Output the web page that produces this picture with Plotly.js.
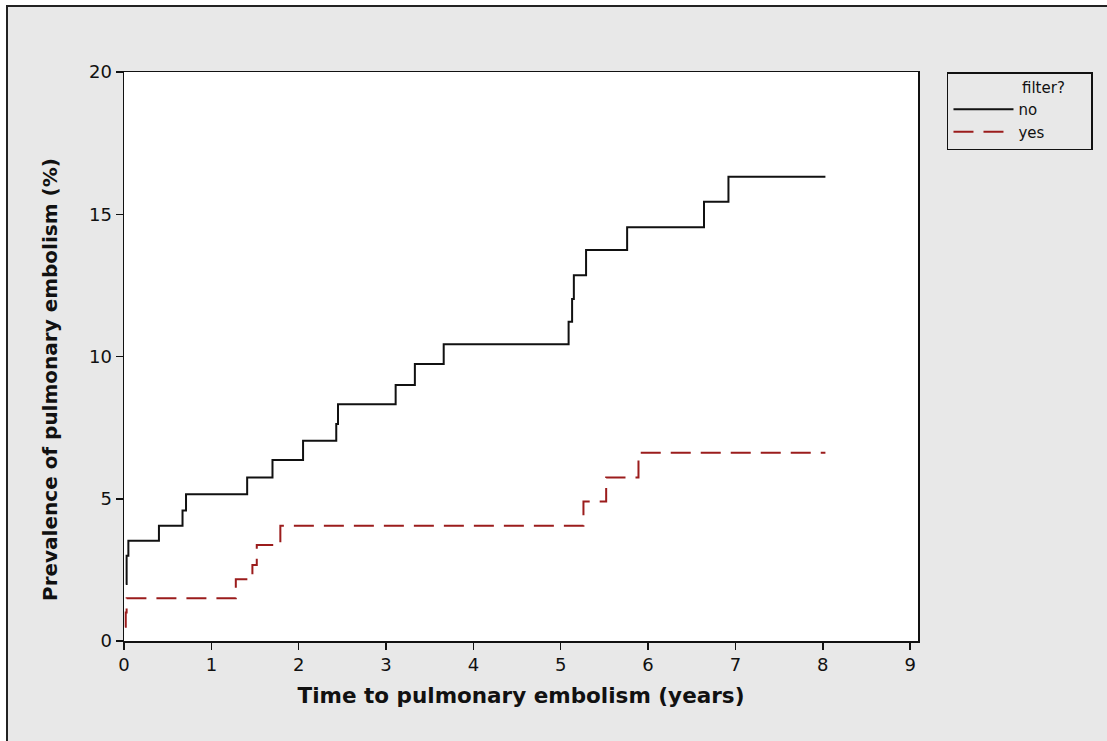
<!DOCTYPE html>
<html>
<head>
<meta charset="utf-8">
<script src="https://cdn.plot.ly/plotly-3.0.1.min.js"></script>
<style>
  html, body { margin: 0; padding: 0; background: #ffffff; width: 1107px; height: 741px; overflow: hidden; }
  #frame { position: absolute; left: 6px; top: 5px; width: 1101px; height: 736px; border-left: 2px solid #222; border-top: 2px solid #222; background: #e8e8e8; }
  #plot { position: absolute; left: 0; top: 0; width: 1099px; height: 734px; }
</style>
</head>
<body>
<div id="frame"><div id="plot"></div></div>
<script>
// Step (Kaplan-Meier style) cumulative prevalence
const noTime  = [0.02, 0.03, 0.05, 0.40, 0.67, 0.71, 1.41, 1.70, 2.05, 2.43, 2.45, 3.11, 3.33, 3.66, 5.09, 5.13, 5.15, 5.29, 5.76, 6.64, 6.92, 8.03];
const noPrev  = [2.0, 3.0, 3.52, 4.05, 4.59, 5.16, 5.75, 6.36, 7.04, 7.63, 8.32, 9.0, 9.74, 10.43, 11.22, 12.02, 12.86, 13.74, 14.54, 15.44, 16.32, 16.32];
const yesTime = [0.01, 0.02, 0.03, 1.28, 1.47, 1.52, 1.79, 5.26, 5.52, 5.89, 8.03];
const yesPrev = [0.5, 1.0, 1.5, 2.17, 2.67, 3.37, 4.05, 4.90, 5.75, 6.62, 6.62];

const xTicks = [0, 1, 2, 3, 4, 5, 6, 7, 8, 9];
const yTicks = [0, 5, 10, 15, 20];

const font = "DejaVu Sans, Verdana, sans-serif";

const traces = [
  { x: noTime, y: noPrev, name: "no", type: "scatter", mode: "lines",
    line: { shape: "hv", color: "#111111", width: 2 } },
  { x: yesTime, y: yesPrev, name: "yes", type: "scatter", mode: "lines",
    line: { shape: "hv", color: "#9b1c1c", width: 2, dash: "20px,10px" } }
];

const layout = {
  width: 1099, height: 734,
  margin: { l: 116, r: 189, t: 65, b: 100, autoexpand: false },
  paper_bgcolor: "#e8e8e8",
  plot_bgcolor: "#ffffff",
  font: { family: font, color: "#111", size: 17 },
  showlegend: true,
  legend: {
    x: 1.0365, y: 1, xanchor: "left", yanchor: "top",
    bgcolor: "#e8e8e8", bordercolor: "#111", borderwidth: 1.5,
    font: { size: 15, family: font, color: "#111" },
    itemwidth: 60,
    tracegroupgap: 0,
    title: { text: "\u00a0".repeat(15) + "filter?" + "\u00a0".repeat(5), side: "top", font: { size: 15, family: font } }
  },
  xaxis: {
    range: [0, 9.09], tickvals: xTicks, ticktext: xTicks.map(String),
    ticks: "outside", ticklen: 7, tickwidth: 1.5, tickcolor: "#111",
    showline: true, linecolor: "#111", linewidth: 1.5, mirror: true,
    showgrid: false, zeroline: false,
    tickfont: { size: 18, family: font },
    title: { text: "<b>Time to pulmonary embolism (years)</b>", font: { size: 21.5, family: font }, standoff: 14 }
  },
  yaxis: {
    range: [0, 20], tickvals: yTicks, ticktext: yTicks.map(String),
    ticks: "outside", ticklen: 7, tickwidth: 1.5, tickcolor: "#111",
    showline: true, linecolor: "#111", linewidth: 1.5, mirror: true,
    showgrid: false, zeroline: false,
    tickfont: { size: 18, family: font }
  },
  annotations: [
    { text: "<b>Prevalence of pulmonary embolism (%)</b>", xref: "paper", yref: "paper",
      x: (50 - 124) / 794, y: (641 - 380) / 569, xanchor: "center", yanchor: "middle",
      textangle: -90, showarrow: false, font: { size: 20, family: font, color: "#111" } }
  ]
};

Plotly.newPlot("plot", traces, layout, { displayModeBar: false, staticPlot: true });
</script>
</body>
</html>
